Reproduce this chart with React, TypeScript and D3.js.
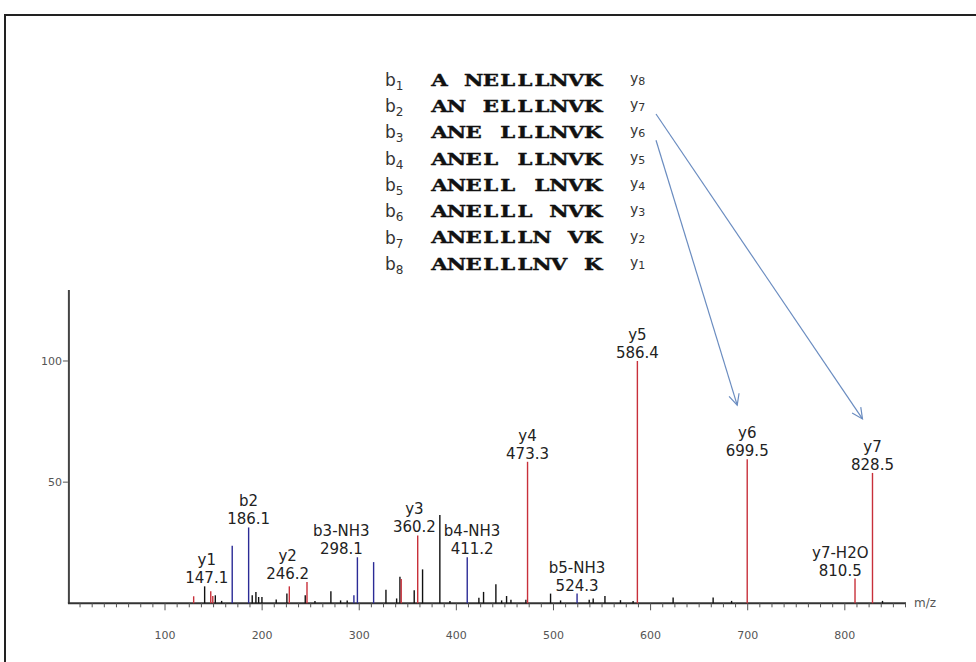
import * as d3 from "d3";

// peaks: m/z, relative intensity, ion series ("y" red, "b" blue, "-" unassigned)
const peakMz = [
  129.5, 140.8, 147.1, 149.2, 151.8, 158.3, 169.2, 186.1, 189.8, 193.6, 196.4, 199.8,
  214.5, 225.5, 228.0, 244.4, 246.2, 254.4, 270.8, 280.8, 287.6, 294.5, 298.1, 314.8,
  327.5, 338.5, 341.9, 343.2, 356.6, 360.2, 365.2, 383.0, 393.4, 411.2, 423.2, 428.0,
  440.7, 446.6, 451.7, 456.2, 471.6, 473.3, 497.0, 507.3, 524.3, 536.8, 540.9, 553.0,
  569.0, 582.0, 586.4, 623.2, 664.4, 683.4, 699.5, 810.5, 828.5, 838.8,
];
const peakIntensity = [
  2.9, 7, 5, 3, 3.3, 1, 23.7, 31.3, 3.3, 4.7, 2.6, 2.6,
  1.6, 4, 7, 3.3, 8.8, 1, 5, 1.2, 1.2, 3.3, 19, 17,
  5.6, 2, 11, 10, 5.4, 28, 14, 36.4, 1, 19, 2.3, 4.7,
  7.9, 1.2, 3, 1.5, 1.5, 58.4, 4, 1.2, 4, 1.5, 2, 3,
  1.3, 1, 100, 2.4, 2.4, 1, 59.5, 10.2, 53.8, 1,
];
const peakIon = [
  "y", "-", "y", "y", "-", "-", "b", "b", "-", "-", "-", "-",
  "-", "-", "y", "-", "y", "-", "-", "-", "-", "b", "b", "b",
  "-", "-", "-", "y", "-", "y", "-", "-", "-", "b", "-", "-",
  "-", "-", "-", "-", "-", "y", "-", "-", "b", "-", "-", "-",
  "-", "-", "y", "-", "-", "-", "y", "y", "y", "-",
];

const labelNames = ["y1", "b2", "y2", "b3-NH3", "y3", "b4-NH3", "y4", "b5-NH3", "y5", "y6", "y7-H2O", "y7"];
const labelMz = [147.1, 186.1, 246.2, 298.1, 360.2, 411.2, 473.3, 524.3, 586.4, 699.5, 810.5, 828.5];

const xTicks = [100, 200, 300, 400, 500, 600, 700, 800];
const yTicks = [50, 100];

const seqRows = ["A NELLLNVK", "AN ELLLNVK", "ANE LLLNVK", "ANEL LLNVK", "ANELL LNVK", "ANELLL NVK", "ANELLLN VK", "ANELLLNV K"];
const bIndex = ["1", "2", "3", "4", "5", "6", "7", "8"];
const yIndex = ["8", "7", "6", "5", "4", "3", "2", "1"];
const arrowFrom = ["7", "6"];
const arrowTo = ["y7", "y6"];

const ionColor: Record<string, string> = { y: "#c8303a", b: "#2b2b96", "-": "#111" };
const labelFont = "15px 'DejaVu Sans'";

const x = d3.scaleLinear().domain([0, 863]).range([67.9, 906]);
const y = d3.scaleLinear().domain([0, 129.3]).range([603.3, 290]);

const ctx = document.createElement("canvas").getContext("2d")!;
ctx.font = labelFont;
const textW = (s: string) => ctx.measureText(s).width;

function layoutLabels() {
  const peaks = peakMz.map((mz, i) => ({ mz, px: x(mz), top: y(peakIntensity[i]), v: peakIntensity[i] }));
  const bottomAt = (cx: number, h: number) =>
    d3.min(peaks.filter((q) => Math.abs(q.px - cx) <= h), (q) => q.top)! - 3;

  const labels = labelMz.map((mz, i) => {
    const p = peaks.find((q) => q.mz === mz)!;
    const text = mz.toFixed(1);
    const h = Math.max(textW(labelNames[i]), textW(text)) / 2;
    let cx = p.px;
    // move away from taller peaks that would run through the label
    peaks
      .filter((q) => q !== p && q.v >= 10 && q.top < p.top + 7)
      .forEach((q) => {
        if (Math.abs(q.px - cx) < h + 4) cx = q.px > cx ? q.px - 4 - h : q.px + 4 + h;
      });
    return { name: labelNames[i], text, h, cx, px: p.px, top: p.top, bottom: 0 };
  });
  labels.forEach((l) => (l.bottom = bottomAt(l.cx, l.h)));

  // resolve overlaps between neighbouring labels, pushing the left one leftwards
  for (let i = labels.length - 2; i >= 0; i--) {
    const a = labels[i];
    const b = labels[i + 1];
    const vOverlap = a.bottom > b.bottom - 34 && a.bottom - 34 < b.bottom;
    if (vOverlap && a.cx + a.h + 4 > b.cx - b.h) {
      a.cx = b.cx - b.h - 4 - a.h;
      a.bottom = bottomAt(a.cx, a.h);
    }
  }
  return labels;
}

const labels = layoutLabels();

const tableBase = 85.7;
const rowGap = 26.3;
const bX = 385;
const seqX = 431;
const charStep = 17.07;
const stretch = 1.25;
const yColX = 630;

function arrowHead(x1: number, y1: number, x2: number, y2: number) {
  const a = Math.atan2(y2 - y1, x2 - x1);
  const len = 12;
  const spread = 0.45;
  const p1 = [x2 - len * Math.cos(a - spread), y2 - len * Math.sin(a - spread)];
  const p2 = [x2 - len * Math.cos(a + spread), y2 - len * Math.sin(a + spread)];
  return `M${p1[0]},${p1[1]}L${x2},${y2}L${p2[0]},${p2[1]}`;
}

export default function App() {
  const minorTicks = d3.range(0, 863, 12.5).filter((t) => t % 100 !== 0);
  const sorted = peakMz.map((_, i) => i).sort((a, b) => (peakIon[a] === "-" ? 0 : 1) - (peakIon[b] === "-" ? 0 : 1));

  return (
    <svg width={976} height={662} style={{ position: "absolute", left: 0, top: 0, background: "#fff" }}>
      <rect x={5} y={15} width={1000} height={700} fill="none" stroke="#222" strokeWidth={2} />

      {/* sequence fragmentation table */}
      {seqRows.map((s, i) => {
        const base = tableBase + i * rowGap;
        const chars = s.split("");
        return (
          <g key={s}>
            <text x={bX} y={base} fontFamily="'DejaVu Sans'" fontSize={17} fill="#333">
              b<tspan fontSize={12} dy={4}>{bIndex[i]}</tspan>
            </text>
            <text
              transform={`translate(${seqX},0) scale(${stretch},1)`}
              x={chars.map((_, k) => (charStep * (k + 0.5)) / stretch).join(" ")}
              y={base}
              fontFamily="'DejaVu Serif'"
              fontWeight="bold"
              fontSize={17}
              fill="#111"
              stroke="#111"
              strokeWidth={0.4}
              textAnchor="middle"
              style={{ whiteSpace: "pre" }}
            >
              {s}
            </text>
            <text x={yColX} y={base - 3} fontFamily="'DejaVu Sans'" fontSize={14} fill="#333">
              y<tspan fontSize={11} dy={2}>{yIndex[i]}</tspan>
            </text>
          </g>
        );
      })}

      {/* axes */}
      <line x1={x(0) + 1} x2={x(0) + 1} y1={y(129.3)} y2={y(0)} stroke="#444" strokeWidth={2} />
      <line x1={x(0)} x2={x(863)} y1={y(0)} y2={y(0)} stroke="#333" strokeWidth={2} />
      {minorTicks.map((t) => (
        <line key={t} x1={x(t)} x2={x(t)} y1={y(0)} y2={y(0) + 4} stroke="#555" strokeWidth={1} />
      ))}
      {xTicks.map((t) => (
        <g key={t}>
          <line x1={x(t)} x2={x(t)} y1={y(0)} y2={y(0) + 7} stroke="#555" strokeWidth={1} />
          <text x={x(t)} y={y(0) + 36} textAnchor="middle" fontFamily="'DejaVu Sans'" fontSize={11} fill="#555">
            {t}
          </text>
        </g>
      ))}
      <text x={x(863) + 8} y={y(0) + 4} fontFamily="'DejaVu Sans'" fontSize={12} fill="#555">
        m/z
      </text>
      {yTicks.map((t) => (
        <g key={t}>
          <line x1={x(0) - 5} x2={x(0)} y1={y(t)} y2={y(t)} stroke="#555" strokeWidth={1} />
          <text x={x(0) - 6} y={y(t) + 4} textAnchor="end" fontFamily="'DejaVu Sans'" fontSize={11} fill="#555">
            {t}
          </text>
        </g>
      ))}

      {/* peaks */}
      {sorted.map((i) => (
        <line
          key={i}
          x1={x(peakMz[i])}
          x2={x(peakMz[i])}
          y1={y(0)}
          y2={y(peakIntensity[i])}
          stroke={ionColor[peakIon[i]]}
          strokeWidth={1.4}
        />
      ))}

      {/* peak labels */}
      {labels.map((l) => (
        <g key={l.name} fontFamily="'DejaVu Sans'" fontSize={15} fill="#222" textAnchor="middle">
          <text x={l.cx} y={l.bottom - 18}>{l.name}</text>
          <text x={l.cx} y={l.bottom}>{l.text}</text>
        </g>
      ))}

      {/* arrows from the y-ion column to the matching peaks */}
      {arrowFrom.map((idx, k) => {
        const row = yIndex.indexOf(idx);
        const x1 = yColX + 26;
        const y1 = tableBase + row * rowGap + 2;
        const target = labels.find((l) => l.name === arrowTo[k])!;
        const x2 = target.px - 10;
        const y2 = target.top - 54;
        return (
          <g key={idx} stroke="#6a8cc0" strokeWidth={1.2} fill="none">
            <line x1={x1} y1={y1} x2={x2} y2={y2} />
            <path d={arrowHead(x1, y1, x2, y2)} />
          </g>
        );
      })}
    </svg>
  );
}
